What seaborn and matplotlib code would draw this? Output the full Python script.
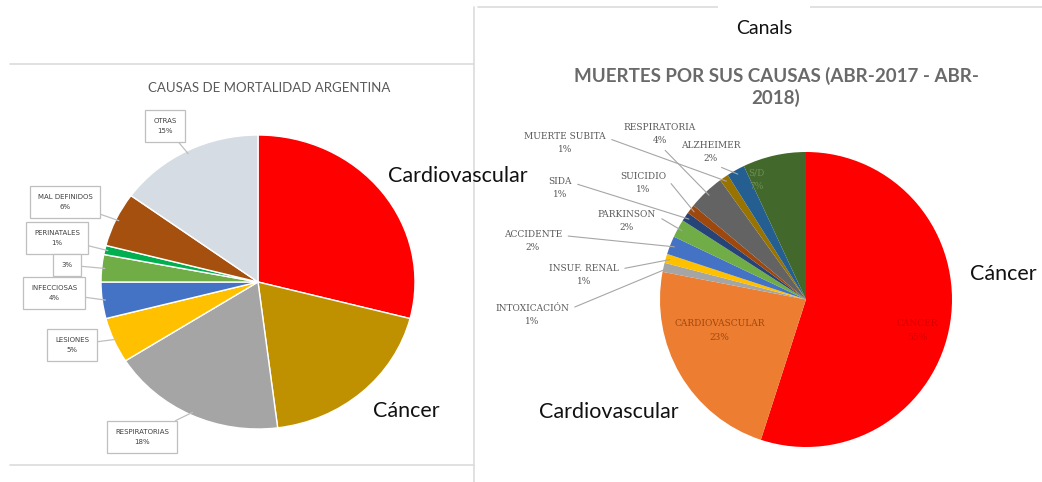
import matplotlib
matplotlib.use("Agg")
import matplotlib.pyplot as plt
import numpy as np
import seaborn as sns

W, H = 1042, 482

# left chart: causas de mortalidad argentina
left_causes = ["CARDIOVASCULAR", "CÁNCER", "RESPIRATORIAS", "LESIONES", "INFECCIOSAS",
               "", "PERINATALES", "MAL DEFINIDOS", "OTRAS"]
left_values = [29, 19, 18, 5, 4, 3, 1, 6, 15]
left_colors = ["#FF0000", "#BF9000", "#A5A5A5", "#FFC000", "#4472C4",
               "#70AD47", "#00B050", "#A5500F", "#D6DCE4"]

# right chart: muertes por sus causas (abr-2017 - abr-2018)
right_causes = ["CÁNCER", "CARDIOVASCULAR", "INTOXICACIÓN", "INSUF. RENAL", "ACCIDENTE",
                "PARKINSON", "SIDA", "SUICIDIO", "RESPIRATORIA", "MUERTE SUBITA",
                "ALZHEIMER", "S/D"]
right_values = [55, 23, 1, 1, 2, 2, 1, 1, 4, 1, 2, 7]
right_colors = ["#FF0000", "#ED7D31", "#A5A5A5", "#FFC000", "#4472C4", "#70AD47",
                "#264478", "#9E480E", "#636363", "#997300", "#255E91", "#43682B"]

# label box centres for the left pie (image px), keyed by slice index
left_box_xy = {8: (165, 126), 7: (65, 202), 6: (57, 238), 5: (67, 265),
               4: (54, 293), 3: (72, 345), 2: (142, 437)}
# outer label centres for the right pie (image px)
right_label_xy = {2: (532, 315), 3: (584, 275), 4: (533, 241), 5: (627, 221),
                  6: (560, 188), 7: (643, 183), 8: (660, 134), 9: (565, 143),
                  10: (711, 152)}


def px(x, y):
    return x, H - y


def mid_angle(values, i):
    frac = np.cumsum([0] + list(values)) / sum(values)
    a0 = 90 - 360 * frac[i]
    a1 = 90 - 360 * frac[i + 1]
    return np.deg2rad((a0 + a1) / 2)


sns.set_style("white")
plt.rcParams["font.family"] = ["Lato", "DejaVu Sans"]

fig = plt.figure(figsize=(W / 100, H / 100), dpi=100)

# background frame lines (the two pasted excel charts)
bg = fig.add_axes([0, 0, 1, 1], zorder=0)
bg.set_xlim(0, W)
bg.set_ylim(H, 0)
bg.axis("off")
line_c = "#DCDCDC"
bg.plot([10, 474], [64, 64], color=line_c, lw=1.2)
bg.plot([10, 474], [465, 465], color=line_c, lw=1.2)
bg.plot([474, 474], [7, 482], color=line_c, lw=1.2)
bg.plot([478, 1042], [7, 7], color=line_c, lw=1.2)

# ---- left pie ----
axl = fig.add_axes([101 / W, 53 / H, 314 / W, 294 / H], zorder=2)
axl.pie(left_values, colors=left_colors, startangle=90, counterclock=False,
        wedgeprops=dict(edgecolor="white", linewidth=1.0))
axl.set_aspect("auto")
axl.set_xlim(-1, 1)
axl.set_ylim(-1, 1)

fig.text(269 / W, 1 - 88 / H, "CAUSAS DE MORTALIDAD ARGENTINA", ha="center", va="center",
         fontsize=9.5, color="#595959")

for i, (bx, by) in left_box_xy.items():
    ang = mid_angle(left_values, i)
    txt = f"{left_causes[i]}\n{left_values[i]}%" if left_causes[i] else f"{left_values[i]}%"
    axl.annotate(txt, xy=(np.cos(ang) * 0.98, np.sin(ang) * 0.98), xytext=px(bx, by),
                 textcoords="figure pixels", ha="center", va="center", fontsize=5,
                 color="#404040", family="DejaVu Sans", linespacing=1.8,
                 bbox=dict(boxstyle="square,pad=1.15", fc="white", ec="#BFBFBF", lw=0.9),
                 arrowprops=dict(arrowstyle="-", color="#BFBFBF", lw=0.9, shrinkA=0, shrinkB=0),
                 annotation_clip=False)

# ---- right pie ----
axr = fig.add_axes([660 / W, 35 / H, 292 / W, 295 / H], zorder=2)
axr.pie(right_values, colors=right_colors, startangle=90, counterclock=False,
        wedgeprops=dict(linewidth=0))
axr.set_aspect("auto")
axr.set_xlim(-1, 1)
axr.set_ylim(-1, 1)

fig.text(764 / W, 1 - 28 / H, "Canals", ha="center", va="center", fontsize=14, color="#111111",
         bbox=dict(boxstyle="square,pad=0.9", fc="white", ec="none"))
fig.text(776 / W, 1 - 87 / H, "MUERTES POR SUS CAUSAS (ABR-2017 - ABR-\n2018)", ha="center",
         va="center", fontsize=13.5, fontweight="bold", color="#6A6A6A", linespacing=1.3)

for i, (tx, ty) in right_label_xy.items():
    ang = mid_angle(right_values, i)
    rel = (0.5, 0.0) if right_causes[i] in ("RESPIRATORIA", "ALZHEIMER") else (1.0, 0.75)
    axr.annotate(f"{right_causes[i]}\n{right_values[i]}%",
                 xy=(np.cos(ang) * 0.97, np.sin(ang) * 0.97), xytext=px(tx, ty),
                 textcoords="figure pixels", ha="center", va="center", fontsize=6.5,
                 color="#595959", family="DejaVu Serif", linespacing=1.6,
                 arrowprops=dict(arrowstyle="-", color="#A6A6A6", lw=0.8, relpos=rel,
                                 shrinkA=2, shrinkB=0),
                 annotation_clip=False)

axr.text(-0.59, -0.21, "CARDIOVASCULAR\n23%", ha="center", va="center", fontsize=6.5,
         color="#9E480E", family="DejaVu Serif", linespacing=1.6)
axr.text(0.76, -0.21, "CÁNCER\n55%", ha="center", va="center", fontsize=6.5,
         color="#D40000", family="DejaVu Serif", linespacing=1.6)
axr.text(-0.34, 0.81, "S/D\n7%", ha="center", va="center", fontsize=6.5,
         color="#6E8F55", family="DejaVu Serif", linespacing=1.6)

# black overlay annotations
for label, (x, y) in [("Cardiovascular", (458, 176)), ("Cáncer", (406, 411)),
                      ("Cáncer", (1003, 274)), ("Cardiovascular", (609, 412))]:
    fig.text(x / W, 1 - y / H, label, ha="center", va="center", fontsize=15.5, color="#111111",
             zorder=5)

fig.savefig("out.png", dpi=100)
